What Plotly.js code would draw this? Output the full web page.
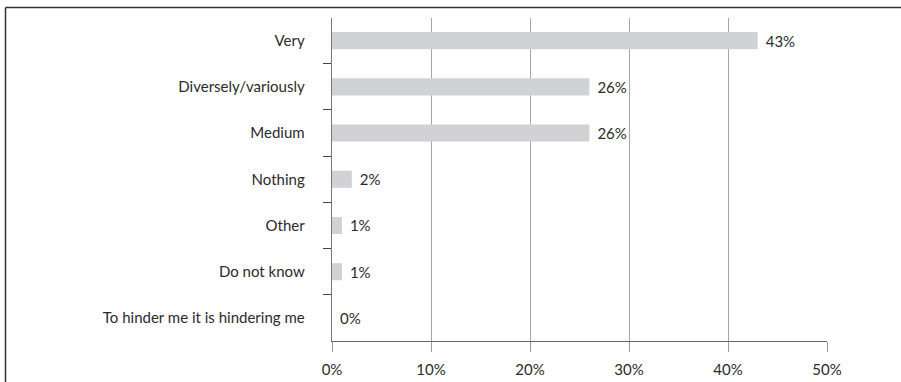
<!DOCTYPE html>
<html>
<head>
<meta charset="utf-8">
<script src="https://cdn.plot.ly/plotly-3.0.1.min.js"></script>
<style>
  html, body { margin: 0; padding: 0; background: #fff; }
  #chart { width: 901px; height: 382px; }
</style>
</head>
<body>
<div id="chart"></div>
<script>
const categories = [
  "Very",
  "Diversely/variously",
  "Medium",
  "Nothing",
  "Other",
  "Do not know",
  "To hinder me it is hindering me"
];
const shares = [43, 26, 26, 2, 1, 1, 0];
const shareLabels = ["43%", "26%", "26%", "2%", "1%", "1%", "0%"];
const xTickValues = [0, 10, 20, 30, 40, 50];
const xTickLabels = ["0%", "10%", "20%", "30%", "40%", "50%"];

const W = 901, H = 382;
const M = { l: 332, r: 74, t: 18, b: 41 };
const pw = W - M.l - M.r, ph = H - M.t - M.b;
const px = v => (v - M.l) / pw;
const py = v => (H - M.b - v) / ph;
const FONT = "Lato, 'Open Sans', sans-serif";
const FS = 15;

const trace = {
  type: "bar",
  orientation: "h",
  y: categories,
  x: shares,
  text: shareLabels,
  texttemplate: "\u2004%{text}",
  textposition: "outside",
  constraintext: "none",
  cliponaxis: false,
  textfont: { family: FONT, size: FS, color: "#2b2b2b" },
  marker: { color: "#d1d2d4", line: { width: 0 } },
  hoverinfo: "none"
};

const layout = {
  width: W,
  height: H,
  margin: M,
  paper_bgcolor: "#fff",
  plot_bgcolor: "#fff",
  showlegend: false,
  bargap: 0.63,
  font: { family: FONT, size: FS, color: "#2b2b2b" },
  xaxis: {
    range: [0, 50],
    tickvals: xTickValues,
    ticktext: xTickLabels,
    showgrid: true,
    gridcolor: "#a6a6a6",
    gridwidth: 1,
    zeroline: false,
    showline: true,
    linecolor: "#666",
    linewidth: 1.3,
    ticks: "outside",
    ticklen: 10,
    tickcolor: "#999",
    tickwidth: 1,
    ticklabelstandoff: 5,
    tickfont: { family: FONT, size: FS, color: "#2b2b2b" },
    fixedrange: true
  },
  yaxis: {
    type: "category",
    range: [6.5, -0.49],
    showgrid: false,
    zeroline: false,
    showline: true,
    linecolor: "#777",
    linewidth: 1.3,
    ticks: "outside",
    tickson: "boundaries",
    ticklen: 8,
    tickcolor: "#444",
    tickwidth: 1,
    ticklabelstandoff: 23,
    tickfont: { family: FONT, size: FS, color: "#2b2b2b" },
    fixedrange: true
  },
  shapes: [
    { type: "line", xref: "paper", yref: "paper",
      x0: px(5.5), x1: px(905), y0: py(7.5), y1: py(7.5),
      line: { color: "#333", width: 1.5 } },
    { type: "line", xref: "paper", yref: "paper",
      x0: px(5.5), x1: px(5.5), y0: py(7.5), y1: py(390),
      line: { color: "#333", width: 1.5 } }
  ]
};

Plotly.newPlot("chart", [trace], layout, { displayModeBar: false, staticPlot: true });
</script>
</body>
</html>
